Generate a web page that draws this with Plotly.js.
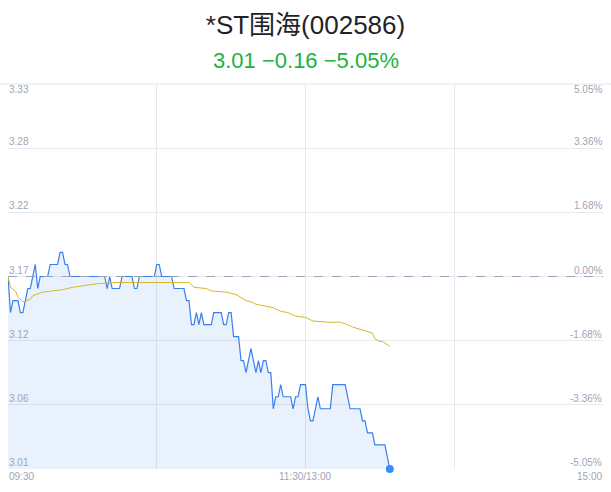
<!DOCTYPE html>
<html>
<head>
<meta charset="utf-8">
<script src="https://cdn.plot.ly/plotly-3.0.1.min.js"></script>
<style>html,body{margin:0;padding:0;background:#fff;}#chart{width:611px;height:492px;}</style>
</head>
<body>
<div id="chart"></div>
<script>
// ---- data ----
const stockTitle = "*ST围海(002586)";
const quoteText = "3.01 \u22120.16 \u22125.05%";
const prevClose = 3.17;
const pctRange = 0.0505;
const priceLabels = ["3.33", "3.28", "3.22", "3.17", "3.12", "3.06", "3.01"];
const pctLabels = ["5.05%", "3.36%", "1.68%", "0.00%", "-1.68%", "-3.36%", "-5.05%"];
const timeLabels = ["09:30", "11:30/13:00", "15:00"];
const timeTickMinutes = [0, 120, 240];

// minute-by-minute price (minute 0 = 09:30)
const price = [
  3.17, 3.14, 3.15, 3.15, 3.15, 3.14, 3.14, 3.15, 3.16, 3.16,
  3.17, 3.18, 3.16, 3.17, 3.17, 3.17, 3.17, 3.18, 3.18, 3.18,
  3.18, 3.19, 3.19, 3.18, 3.18, 3.17, 3.17, 3.17, 3.17, 3.17,
  3.17, 3.17, 3.17, 3.17, 3.17, 3.17, 3.17, 3.17, 3.17, 3.17,
  3.16, 3.17, 3.16, 3.16, 3.16, 3.16, 3.17, 3.17, 3.17, 3.17,
  3.17, 3.16, 3.16, 3.17, 3.17, 3.17, 3.17, 3.17, 3.17, 3.17,
  3.18, 3.18, 3.17, 3.17, 3.17, 3.17, 3.17, 3.16, 3.16, 3.16,
  3.16, 3.16, 3.15, 3.15, 3.13, 3.13, 3.14, 3.13, 3.14, 3.13,
  3.13, 3.13, 3.13, 3.14, 3.14, 3.14, 3.14, 3.13, 3.13, 3.14,
  3.14, 3.12, 3.12, 3.12, 3.10, 3.10, 3.09, 3.10, 3.11, 3.10,
  3.09, 3.10, 3.09, 3.10, 3.10, 3.09, 3.09, 3.06, 3.07, 3.07,
  3.08, 3.07, 3.07, 3.07, 3.07, 3.06, 3.07, 3.07, 3.08, 3.08,
  3.08, 3.06, 3.05, 3.05, 3.06, 3.07, 3.06, 3.06, 3.06, 3.06,
  3.06, 3.08, 3.08, 3.08, 3.08, 3.08, 3.08, 3.07, 3.06, 3.06,
  3.06, 3.06, 3.06, 3.05, 3.05, 3.04, 3.04, 3.04, 3.03, 3.03,
  3.03, 3.03, 3.03, 3.02, 3.01
];

// average price line, read at sampled minutes
const avgMinutes = [0, 1, 3, 4, 6, 9, 10, 14, 18, 22, 26, 30, 36, 44, 50, 59, 67, 71, 73, 75,
  80, 82, 88, 90, 92, 96, 98, 100, 105, 107, 110, 113, 116, 120, 123, 129, 134, 137, 139, 142,
  145, 147, 148, 150, 151, 154];
const avgPrice = [3.170, 3.161, 3.158, 3.153, 3.149, 3.151, 3.154, 3.157, 3.158, 3.159,
  3.161, 3.162, 3.164, 3.165, 3.165, 3.165, 3.165, 3.165, 3.165, 3.161,
  3.160, 3.158, 3.157, 3.156, 3.155, 3.150, 3.149, 3.147, 3.145, 3.144,
  3.141, 3.140, 3.137, 3.136, 3.133, 3.132, 3.132, 3.130, 3.128, 3.126,
  3.124, 3.123, 3.118, 3.116, 3.116, 3.112];

// ---- build ----
const minutes = price.map((_, i) => i);
const yMin = prevClose * (1 - pctRange);
const yMax = prevClose * (1 + pctRange);
const levels = [3, 2, 1, 0, -1, -2, -3].map(k => prevClose * (1 + k * pctRange / 3));

const labelFont = {family: "Liberation Sans, Arial, sans-serif", size: 10, color: "#a0a5b0"};
const annotations = [];
levels.forEach((lv, i) => {
  const top = i === 0;
  annotations.push({xref: "paper", yref: "y", x: 0, y: lv, xanchor: "left", yanchor: top ? "top" : "bottom",
    text: priceLabels[i], showarrow: false, font: labelFont, borderpad: 0, yshift: top ? 1 : 0});
  annotations.push({xref: "paper", yref: "y", x: 1, y: lv, xanchor: "right", yanchor: top ? "top" : "bottom",
    text: pctLabels[i], showarrow: false, font: labelFont, borderpad: 0, yshift: top ? 1 : 0});
});
timeLabels.forEach((t, i) => {
  annotations.push({xref: "x", yref: "paper", x: timeTickMinutes[i], y: 0,
    xanchor: i === 0 ? "left" : (i === timeLabels.length - 1 ? "right" : "center"),
    yanchor: "top", text: t, showarrow: false, font: labelFont, borderpad: 0, yshift: -1});
});
annotations.push({xref: "paper", yref: "paper", x: 0.5, y: 1.062, xanchor: "center", yanchor: "middle",
  text: quoteText, showarrow: false,
  font: {family: "Liberation Sans, Arial, sans-serif", size: 22, color: "#1db13f"}});

const traces = [
  {x: minutes, y: price, type: "scatter", mode: "lines", fill: "tozeroy",
   fillcolor: "rgba(59,125,240,0.11)", line: {color: "#3a7ff0", width: 1.2, shape: "linear"},
   hoverinfo: "skip"},
  {x: avgMinutes, y: avgPrice, type: "scatter", mode: "lines",
   line: {color: "#d6b82a", width: 1}, hoverinfo: "skip"},
  {x: [minutes[minutes.length - 1]], y: [price[price.length - 1]], type: "scatter", mode: "markers",
   marker: {color: "#3a8df5", size: 8}, cliponaxis: false, hoverinfo: "skip"}
];

const layout = {
  width: 611, height: 492,
  margin: {l: 8, r: 8, t: 84, b: 23},
  paper_bgcolor: "#ffffff", plot_bgcolor: "#ffffff",
  showlegend: false,
  title: {text: stockTitle, x: 0.5, xanchor: "center", y: 1 - 25 / 492, yanchor: "middle", yref: "container",
    font: {family: "Liberation Sans, Noto Sans CJK SC, sans-serif", size: 26, color: "#1f2329"}},
  xaxis: {range: [0, 240], tickvals: [0, 60, 120, 180, 240], showticklabels: false, showgrid: true,
    gridcolor: "#e7e9ef", gridwidth: 1, zeroline: false, showline: false, fixedrange: true},
  yaxis: {range: [yMin, yMax], tickvals: levels, showticklabels: false, showgrid: true,
    gridcolor: "#e7e9ef", gridwidth: 1, zeroline: false, showline: false, fixedrange: true},
  shapes: [
    {type: "line", xref: "x", yref: "y", x0: 0, x1: 240, y0: prevClose, y1: prevClose,
     line: {color: "#9aa4b8", width: 1, dash: "dash"}},
    {type: "line", xref: "paper", yref: "paper", x0: -0.02, x1: 1.02, y0: 1, y1: 1,
     line: {color: "#e3e5ea", width: 1}}
  ],
  annotations: annotations
};

Plotly.newPlot("chart", traces, layout, {displayModeBar: false, staticPlot: true});
</script>
</body>
</html>
